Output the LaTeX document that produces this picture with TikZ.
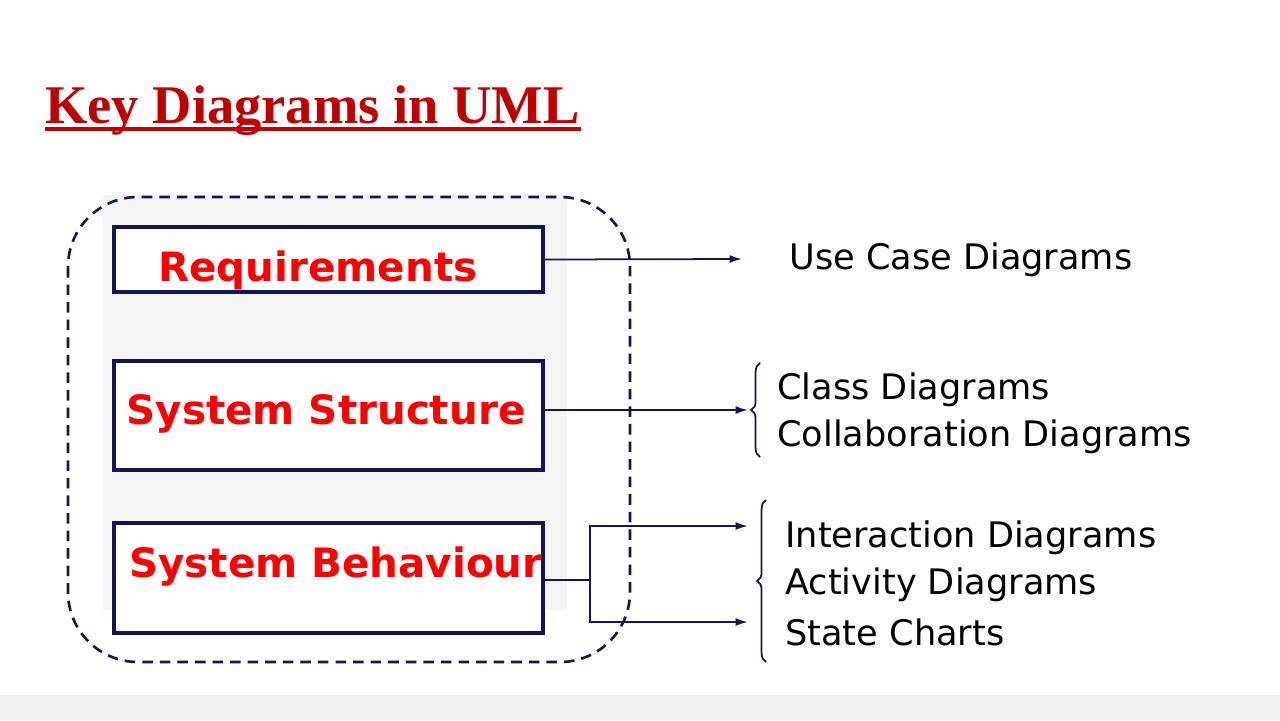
\documentclass[tikz,border=0pt]{standalone}
\usepackage{fontspec}
\setmainfont{Liberation Serif}
\setsansfont{DejaVu Sans}
\usetikzlibrary{arrows.meta, decorations.pathreplacing}
\definecolor{navy}{RGB}{20,20,90}
\definecolor{titlered}{RGB}{190,0,0}
\tikzset{
  layer/.style={draw=navy, line width=2.2pt, fill=white, minimum width=8.58cm},
  label/.style={font=\sffamily\bfseries\fontsize{23}{26}\selectfont, text=red},
  item/.style={anchor=west, font=\sffamily\fontsize{20}{23}\selectfont, inner sep=0pt},
  link/.style={navy, line width=1pt, -{Latex[length=2.5mm,width=1.6mm]}},
  brace/.style={navy, line width=1pt, decorate, decoration={brace, amplitude=5pt}}
}
\begin{document}
\begin{tikzpicture}[x=0.02cm, y=-0.02cm]
        \useasboundingbox (0,0) rectangle (1280,720);
        \fill[white] (0,0) rectangle (1280,720);
        \fill[gray!12] (0,695) rectangle (1280,720);
        \fill[gray!8] (103,195) rectangle (567,610);

        % title
        \node[anchor=base west, inner sep=0pt, text=titlered, font=\bfseries\fontsize{31}{35}\selectfont] (title) at (45,123) {Key Diagrams in UML};
        \draw[titlered, line width=1.8pt] (45,129) -- (581,129);

        % views
        \draw[navy, line width=1.5pt, dash pattern=on 6pt off 4pt, rounded corners=1.4cm] (68,197) rectangle (630,662);
        \node[layer, minimum height=1.3cm] (req) at (328.5,259.5) {};
        \node[layer, minimum height=2.18cm] (str) at (328.5,415.5) {};
        \node[layer, minimum height=2.2cm] (beh) at (328.5,578) {};
        \node[label] (reqtext) at (318,270) {Requirements};
        \node[label] (strtext) at (326,414) {System Structure};
        \node[label] (behtext) at (336,566) {System Behaviour};

        % diagrams
        \node[item] (usecase) at (789,260) {Use Case Diagrams};
        \node[item] (class) at (777,390) {Class Diagrams};
        \node[item] (collab) at (777,437) {Collaboration Diagrams};
        \node[item] (inter) at (785,538) {Interaction Diagrams};
        \node[item] (activity) at (785,585) {Activity Diagrams};
        \node[item] (state) at (785,632) {State Charts};

        \coordinate (ucend) at (742,259);
        \coordinate (strend) at (748,410);
        \coordinate (fork) at (590,580);
        \coordinate (top) at (748,526);
        \coordinate (bot) at (748,622);

        \draw[link] (req.east) -- (ucend);
        \draw[link] (str.east |- strend) -- (strend);
        \draw[navy, line width=1.6pt] (beh.east |- fork) -- (fork);
        \draw[link] (fork) |- (top);
        \draw[link] (fork) |- (bot);

        \draw[brace] (760,457) -- (760,363);
        \draw[brace] (766,662) -- (766,500);
\end{tikzpicture}
\end{document}
